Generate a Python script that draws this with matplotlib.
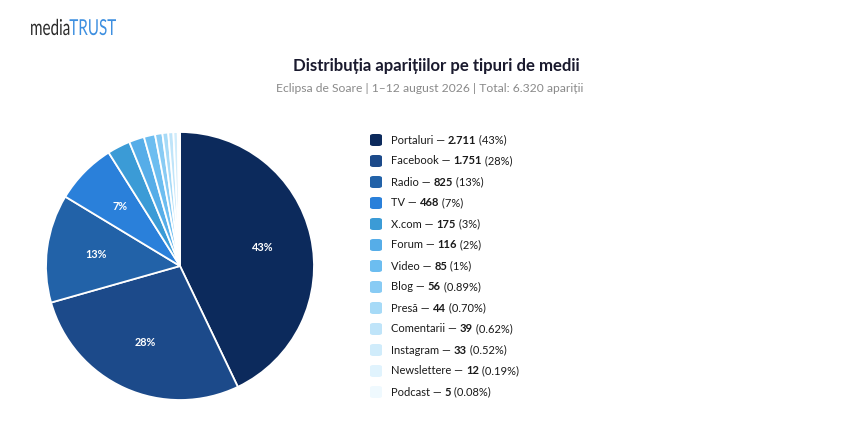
import matplotlib
matplotlib.use("Agg")
import numpy as np
import matplotlib.pyplot as plt
from matplotlib.patches import FancyBboxPatch, PathPatch
from matplotlib.textpath import TextPath
from matplotlib.font_manager import FontProperties
from matplotlib.transforms import Affine2D, IdentityTransform

plt.rcParams['font.family'] = ['Lato', 'DejaVu Sans']

# data
categories = ['Portaluri', 'Facebook', 'Radio', 'TV', 'X.com', 'Forum', 'Video',
              'Blog', 'Presă', 'Comentarii', 'Instagram', 'Newslettere', 'Podcast']
counts = [2711, 1751, 825, 468, 175, 116, 85, 56, 44, 39, 33, 12, 5]
count_labels = ['2.711', '1.751', '825', '468', '175', '116', '85', '56', '44', '39', '33', '12', '5']
pct_labels = ['43%', '28%', '13%', '7%', '3%', '2%', '1%', '0.89%', '0.70%', '0.62%',
              '0.52%', '0.19%', '0.08%']
colors = ['#0c2a5c', '#1c4a8a', '#2262a8', '#2a80da', '#3b9bd6', '#56ade8', '#6cbdf0',
          '#88cbf4', '#a6daf7', '#bfe4f9', '#d0ecfb', '#e0f3fd', '#eff9fe']

W, H = 860, 432
fig = plt.figure(figsize=(W / 100, H / 100), dpi=100)
r = fig.canvas.get_renderer()

# logo, condensed by scaling the glyph paths horizontally
fp = FontProperties(family='Lato')
p1 = TextPath((0, 0), 'media', size=22, prop=fp)
p2 = TextPath((0, 0), 'TRUST', size=22, prop=fp)
w1 = p1.get_extents().x1
w2 = p2.get_extents().x1
sx = 86 / (w1 + w2)
base = H - 35
for p, off, col in ((p1, 0, '#2b2b2b'), (p2, w1, '#3d8fe0')):
    tr = Affine2D().translate(off, 0).scale(sx, 1).translate(30, base)
    fig.patches.append(PathPatch(p, transform=tr + IdentityTransform(),
                                 facecolor=col, edgecolor='none'))

# titles
fig.text(436 / W, 1 - 66 / H, 'Distribuția aparițiilor pe tipuri de medii',
         fontsize=12.1, fontweight='bold', color='#1a1a2e', ha='center', va='center')
fig.text(430 / W, 1 - 88 / H, 'Eclipsa de Soare | 1–12 august 2026 | Total: 6.320 apariții',
         fontsize=8.7, color='#8a8a8a', ha='center', va='center')

# pie
cx, cy, rad = 180, 266, 134
ax = fig.add_axes([(cx - rad) / W, (H - cy - rad) / H, 2 * rad / W, 2 * rad / H])
wedges, _ = ax.pie(counts, colors=colors, startangle=90, counterclock=False,
                   wedgeprops=dict(edgecolor='white', linewidth=1.3))
ax.set_xlim(-1, 1)
ax.set_ylim(-1, 1)
total = sum(counts)
for w, c, p in zip(wedges, counts, pct_labels):
    if c / total < 0.05:
        continue
    ang = np.deg2rad((w.theta1 + w.theta2) / 2)
    ax.text(0.63 * np.cos(ang), 0.63 * np.sin(ang), p, color='white', fontsize=7.8,
            fontweight='bold', ha='center', va='center')

# legend
y0, dy = 140, 21
for i, (name, cl, pl, col) in enumerate(zip(categories, count_labels, pct_labels, colors)):
    y = y0 + i * dy
    box = FancyBboxPatch((370 / W, 1 - (y + 6) / H), 12 / W, 12 / H,
                         boxstyle='round,pad=0,rounding_size=0.004',
                         transform=fig.transFigure, facecolor=col, edgecolor='none')
    fig.patches.append(box)
    x = 391
    for txt, wt in ((name + ' — ', 'normal'), (cl, 'bold'), (' (' + pl + ')', 'normal')):
        tt = fig.text(x / W, 1 - y / H, txt, fontsize=8, fontweight=wt, color='#1a1a1a',
                      va='center', ha='left')
        x = tt.get_window_extent(r).x1

fig.savefig('out.png', dpi=100, facecolor='white')
